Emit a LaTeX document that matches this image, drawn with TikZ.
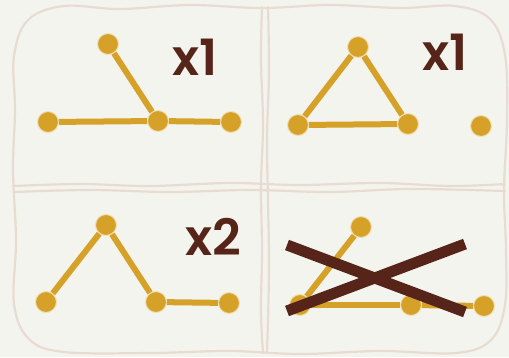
\documentclass[tikz,border=0pt]{standalone}
\usepackage{fontspec}
\newfontfamily\countfont{Poppins}[UprightFont=* SemiBold]
\usepackage{tikz}
\definecolor{paper}{RGB}{244, 244, 238}
\definecolor{frameline}{RGB}{232, 220, 210}
\definecolor{gold}{RGB}{214, 161, 41}
\definecolor{goldrim}{RGB}{241, 224, 180}
\definecolor{darkbrown}{RGB}{86, 36, 24}

\begin{document}
\begin{tikzpicture}[
    x=1pt, y=-1pt,
    frame/.style={draw=frameline, line width=2.2pt, line cap=round},
    vertex/.style={circle, fill=gold, draw=goldrim, line width=1pt, minimum size=21pt, inner sep=0pt},
    edge/.style={draw=gold, line width=6pt},
    count/.style={font=\countfont\fontsize{50}{50}\selectfont, text=darkbrown, inner sep=0pt, anchor=base},
    strike/.style={draw=darkbrown, line width=11pt}
]
\fill[paper] (0,0) rectangle (509,357);
\useasboundingbox (0,0) rectangle (509,357);
% hand drawn frame and dividers
\draw[frame] plot[smooth cycle, tension=0.6] coordinates {
    (14,56) (28,20) (64,6) (120,9) (190,5) (262,8) (330,5) (400,8) (455,6) (490,19) (505,55)
    (507,120) (504,190) (506,250) (505,305) (491,340) (456,353) (380,351) (300,354) (230,351)
    (150,353) (64,352) (29,339) (14,304) (16,240) (13,170) (15,110)};
\draw[frame] plot[smooth, tension=0.6] coordinates {(262,7) (261,60) (263,125) (261,185) (262,250) (261,310) (263,353)};
\draw[frame] plot[smooth, tension=0.6] coordinates {(268,7) (269,70) (267,140) (268,200) (269,270) (267,353)};
\draw[frame] plot[smooth, tension=0.6] coordinates {(14,186) (80,184) (150,186) (230,183) (300,185) (380,183) (450,186) (505,184)};
\draw[frame] plot[smooth, tension=0.6] coordinates {(14,192) (90,190) (170,192) (250,190) (330,192) (410,189) (505,191)};

% top left
\node[vertex] (p1a) at (108,44) {};
\node[vertex] (p1b) at (48,122) {};
\node[vertex] (p1c) at (158,121) {};
\node[vertex] (p1d) at (231,122) {};
\draw[edge] (p1b) -- (p1c);
\draw[edge] (p1c) -- (p1d);
\draw[edge] (p1a) -- (p1c);
\node[count] (n1) at (195,75) {x1};

% top right
\node[vertex] (p2a) at (358,47) {};
\node[vertex] (p2b) at (298,125) {};
\node[vertex] (p2c) at (408,124) {};
\node[vertex] (p2e) at (481,126) {};
\draw[edge] (p2a) -- (p2b);
\draw[edge] (p2b) -- (p2c);
\draw[edge] (p2c) -- (p2a);
\node[count] (n2) at (445,70) {x1};

% bottom left
\node[vertex] (p3a) at (106,225) {};
\node[vertex] (p3b) at (46,302) {};
\node[vertex] (p3c) at (156,302) {};
\node[vertex] (p3d) at (229,303) {};
\draw[edge] (p3b) -- (p3a);
\draw[edge] (p3a) -- (p3c);
\draw[edge] (p3c) -- (p3d);
\node[count] (n3) at (213,255) {x2};

% bottom right, crossed out
\node[vertex] (p4a) at (361,227) {};
\node[vertex] (p4b) at (300,305) {};
\node[vertex] (p4c) at (411,305) {};
\node[vertex] (p4d) at (484,306) {};
\draw[edge] (p4b) -- (p4a);
\draw[edge] (p4b) -- (p4c);
\draw[edge] (p4c) -- (p4d);
\coordinate (s1) at (287,245);
\coordinate (s2) at (465,312);
\coordinate (s3) at (287,311);
\coordinate (s4) at (465,244);
\draw[strike] (s1) -- (s2);
\draw[strike] (s3) -- (s4);
\end{tikzpicture}
\end{document}
